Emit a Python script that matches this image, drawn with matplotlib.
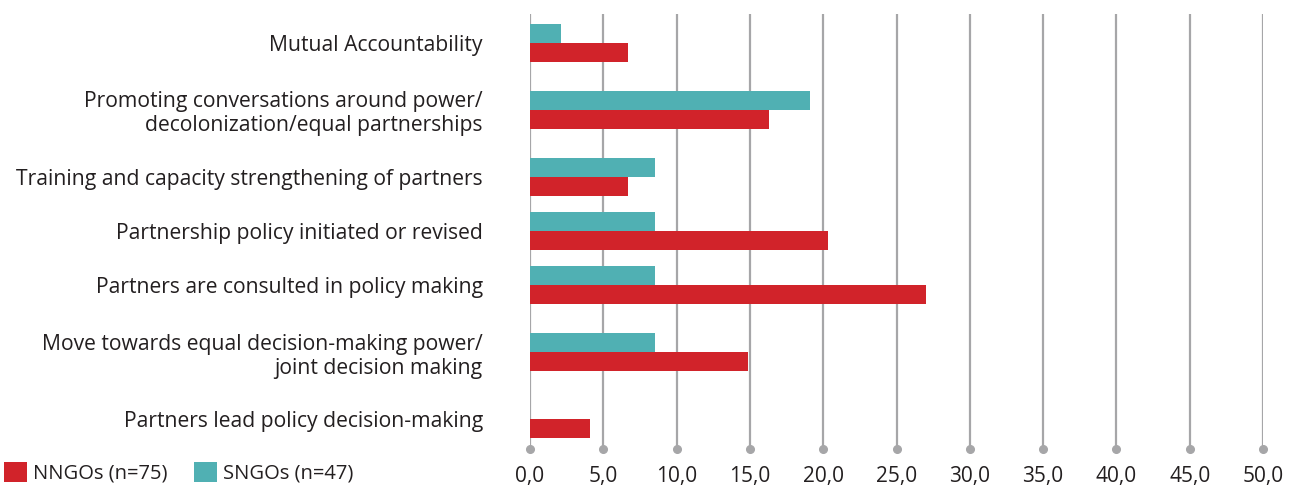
import matplotlib
matplotlib.use("Agg")
import matplotlib.pyplot as plt
from matplotlib.ticker import FuncFormatter
from matplotlib.patches import Patch

categories = [
    "Mutual Accountability",
    "Promoting conversations around power/\ndecolonization/equal partnerships",
    "Training and capacity strengthening of partners",
    "Partnership policy initiated or revised",
    "Partners are consulted in policy making",
    "Move towards equal decision-making power/\njoint decision making",
    "Partners lead policy decision-making",
]
sngo = [2.1, 19.1, 8.5, 8.5, 8.5, 8.5, 0.0]
nngo = [6.7, 16.3, 6.7, 20.3, 27.0, 14.9, 4.1]
series_labels = ["NNGOs (n=75)", "SNGOs (n=47)"]
xticks = [0, 5, 10, 15, 20, 25, 30, 35, 40, 45, 50]

RED = "#D1232A"
TEAL = "#50B0B3"
GRID = "#A6A6A8"
TEXT = "#231F20"

plt.rcParams['font.family'] = ['Open Sans', 'DejaVu Sans']

fig = plt.figure(figsize=(12.96, 4.87), dpi=100)
ax = fig.add_axes([530/1296, 1-449/487, (1263-530)/1296, (449-14)/487])

# category positions: larger gap next to two-line labels
pos = [0.0]
for i in range(1, len(categories)):
    two = ("\n" in categories[i]) or ("\n" in categories[i-1])
    pos.append(pos[-1] + (67 if two else 54.5))

bh = 19
ax.barh([p - bh/2 for p in pos], sngo, height=bh, color=TEAL, zorder=3)
ax.barh([p + bh/2 for p in pos], nngo, height=bh, color=RED, zorder=3)

ax.set_xlim(0, 50)
ax.set_ylim(pos[-1] + 30, -29)

for t in xticks:
    ax.axvline(t, color=GRID, lw=1.6, zorder=1)
ax.plot(xticks, [pos[-1] + 30]*len(xticks), 'o', color=GRID, ms=5.5,
        clip_on=False, zorder=2)

ax.set_xticks(xticks)
ax.xaxis.set_major_formatter(FuncFormatter(lambda v, _: f"{v:.1f}".replace(".", ",")))
ax.tick_params(axis='x', length=0, pad=12, labelsize=15, labelcolor=TEXT)
ax.set_yticks(pos)
ax.set_yticklabels(categories, ha='right', linespacing=1.2)
ax.tick_params(axis='y', length=0, pad=34, labelsize=15.25, labelcolor=TEXT)

for s in ax.spines.values():
    s.set_visible(False)

handles = [Patch(facecolor=RED), Patch(facecolor=TEAL)]
fig.legend(handles, series_labels, loc='lower left',
           bbox_to_anchor=(4/1296, 3/487),
           ncol=2, frameon=False, fontsize=14.5, handlelength=1.14, handleheight=1.14,
           handletextpad=0.3, columnspacing=1.3, borderaxespad=0, borderpad=0,
           labelcolor=TEXT)

fig.savefig("out.png", dpi=100)
